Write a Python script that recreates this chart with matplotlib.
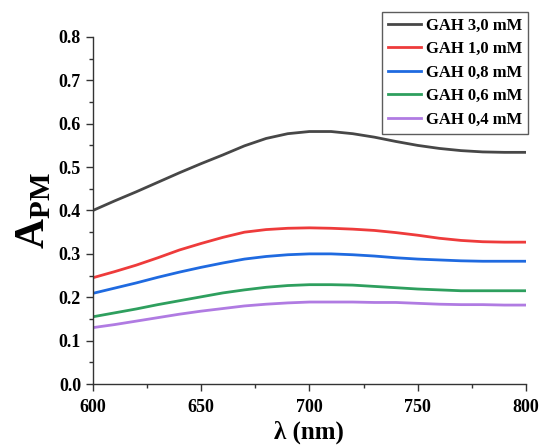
import numpy as np
import matplotlib
matplotlib.use("Agg")
import matplotlib.pyplot as plt
from matplotlib.ticker import MultipleLocator, FormatStrFormatter

plt.rcParams['font.family'] = ['Liberation Serif', 'DejaVu Serif']
plt.rcParams['font.weight'] = 'bold'
plt.rcParams['mathtext.fontset'] = 'custom'
plt.rcParams['mathtext.rm'] = 'Liberation Serif:bold'
plt.rcParams['mathtext.bf'] = 'Liberation Serif:bold'

# wavelength grid (nm)
wl = np.arange(600, 801, 10)

gah_30 = [0.400, 0.422, 0.443, 0.465, 0.487, 0.508, 0.528, 0.549, 0.566, 0.577, 0.582,
          0.582, 0.577, 0.569, 0.559, 0.550, 0.543, 0.538, 0.535, 0.534, 0.534]
gah_10 = [0.245, 0.259, 0.274, 0.291, 0.309, 0.324, 0.338, 0.350, 0.356, 0.359, 0.360,
          0.359, 0.357, 0.354, 0.349, 0.343, 0.336, 0.331, 0.328, 0.327, 0.327]
gah_08 = [0.209, 0.221, 0.233, 0.246, 0.258, 0.269, 0.279, 0.288, 0.294, 0.298, 0.300,
          0.300, 0.298, 0.295, 0.291, 0.288, 0.286, 0.284, 0.283, 0.283, 0.283]
gah_06 = [0.155, 0.164, 0.173, 0.183, 0.192, 0.201, 0.210, 0.217, 0.223, 0.227, 0.229,
          0.229, 0.228, 0.225, 0.222, 0.219, 0.217, 0.215, 0.215, 0.215, 0.215]
gah_04 = [0.130, 0.137, 0.145, 0.153, 0.161, 0.168, 0.174, 0.180, 0.184, 0.187, 0.189,
          0.189, 0.189, 0.188, 0.188, 0.186, 0.184, 0.183, 0.183, 0.182, 0.182]

labels = ["GAH 3,0 mM", "GAH 1,0 mM", "GAH 0,8 mM", "GAH 0,6 mM", "GAH 0,4 mM"]
colores = ["#474747", "#ee3b3b", "#1f6ae0", "#2e9f5e", "#b07be2"]

fig = plt.figure(figsize=(5.4, 4.45), dpi=100)
ax = fig.add_axes([0.172, 0.137, 0.802, 0.78])

for serie, lab, c in zip([gah_30, gah_10, gah_08, gah_06, gah_04], labels, colores):
    ax.plot(wl, serie, color=c, lw=2.0, label=lab)

ax.set_xlim(600, 800)
ax.set_ylim(0, 0.8)
ax.xaxis.set_major_locator(MultipleLocator(50))
ax.xaxis.set_minor_locator(MultipleLocator(25))
ax.yaxis.set_major_locator(MultipleLocator(0.1))
ax.yaxis.set_minor_locator(MultipleLocator(0.05))
ax.yaxis.set_major_formatter(FormatStrFormatter('%.1f'))

for s in ['top', 'right']:
    ax.spines[s].set_visible(False)
for s in ['left', 'bottom']:
    ax.spines[s].set_color('#333333')
    ax.spines[s].set_linewidth(1.0)

ax.tick_params(which='major', length=5, width=1, color='#333333', labelsize=13)
ax.tick_params(axis='x', which='major', pad=6)
ax.tick_params(which='minor', length=3, width=1, color='#333333')

ax.set_xlabel("λ (nm)", fontsize=18, fontweight='bold', labelpad=3)
ax.set_ylabel(r"$\mathbf{A}_{\mathbf{PM}}$", fontsize=30, labelpad=4)

leg = ax.legend(loc='upper right', bbox_to_anchor=(1.005, 1.072), borderaxespad=0,
                fontsize=12, frameon=True, fancybox=False, edgecolor='#333333',
                handlelength=2.0, borderpad=0.35, labelspacing=0.45, handletextpad=0.3)
leg.get_frame().set_linewidth(1.0)

fig.savefig("out.png", dpi=100)
